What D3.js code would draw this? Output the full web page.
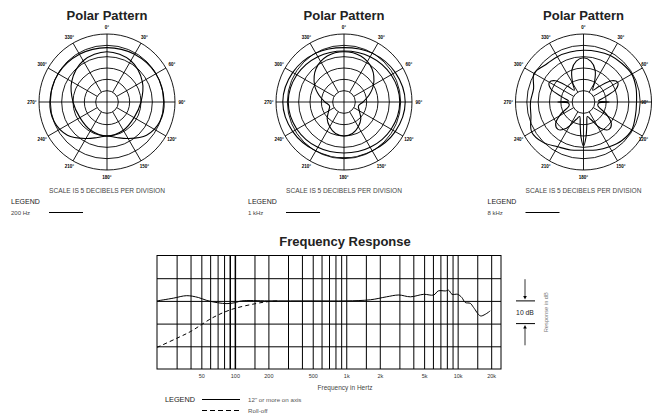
<!DOCTYPE html>
<html>
<head>
<meta charset="utf-8">
<script src="https://cdn.jsdelivr.net/npm/d3@7"></script>
<style>
    body { margin: 0; background: #fff; }
    svg { display: block; font-family: "Liberation Sans", Arial, Helvetica, sans-serif; }
</style>
</head>
<body>
<svg id="chart" width="652" height="413"></svg>
<script>
// polar patterns: angle in degrees clockwise from front, level in dB (0 = outer ring)
const p200OuterAngles = [0, 30, 60, 90, 110, 130, 150, 165, 180];
const p200OuterDb = [-6, -5.7, -5.1, -4.8, -5.1, -7.2, -11.4, -13.8, -15];
const p200InnerAngles = [0, 30, 60, 90, 120, 150, 180];
const p200InnerDb = [-7.8, -9, -12, -15, -16.2, -15.6, -15];

const p1kOuterAngles = [0, 30, 60, 90, 120, 150, 180];
const p1kOuterDb = [-6, -5.1, -3.9, -3, -3.9, -5.1, -5.4];
const p1kMidDb = [-7.5, -6.9, -6, -5.4, -6, -6.9, -7.5];
const p1kLobeAngles = [0, 20, 40, 60, 75, 90, 105, 120, 135, 150, 165, 180];
const p1kLobeDb = [-7.8, -8.4, -10.8, -15, -18.6, -21.6, -23.4, -22.2, -19.5, -17.4, -15.6, -15];

const p8kOuterAngles = [0, 15, 30, 45, 60, 75, 90, 105, 120, 135, 150, 165, 180,
    195, 210, 225, 240, 255, 270, 285, 300, 315, 330, 345];
const p8kOuterDb = [-7.2, -6.9, -6.3, -6, -5.4, -6, -6.6, -6.3, -5.4, -6, -7.2, -8.1, -8.7,
    -8.1, -7.2, -4.8, -3.6, -6, -6.6, -7.2, -4.8, -6.6, -6.9, -7.2];
const p8kFlowerAngles = [0, 10, 20, 30, 38, 45, 53, 60, 68, 77, 86, 90, 94, 105, 118, 128, 137, 147, 157, 165, 172, 176, 180];
const p8kFlowerDb = [-10.5, -11.7, -15, -20.4, -23.4, -20.4, -14.4, -12.6, -14.4, -20.4, -23.4, -18.6, -23.4,
    -23.4, -18.6, -14.4, -13.5, -16.2, -21.6, -23.4, -19.5, -14.4, -10.5];

const polarTitles = ["Polar Pattern", "Polar Pattern", "Polar Pattern"];
const polarLegends = ["200 Hz", "1 kHz", "8 kHz"];
const ringLevels = [-25, -20, -15, -10, -5, 0];
const spokeAngles = [0, 30, 60, 90, 120, 150, 180, 210, 240, 270, 300, 330];

// frequency response
const respFreqs = [20, 28, 37, 47, 56, 70, 85, 100, 115, 200, 500, 1000, 1650, 2300, 2960, 3770, 4960,
    6100, 6700, 7800, 8300, 8900, 10000, 10900, 11700, 13000, 13900, 16000, 17700, 19600];
const respDb = [0, 1.2, 2.3, 1.5, 0.2, -0.8, -1.2, -0.8, 0, 0, 0, 0, 0.5, 1.8, 2.6, 1.8, 2.9,
    2.6, 4.4, 4.4, 4.7, 2.9, 2.9, 1.5, -0.7, -1.1, -2.9, -6.6, -5.9, -4.4];
const rollFreqs = [20, 30, 40, 50, 60, 70, 80, 100, 150, 200, 250];
const rollDb = [-20.5, -16.5, -13.5, -10.5, -8, -6.3, -5, -3.3, -1.3, -0.3, 0];
const gridFreqs = [30, 40, 50, 60, 70, 80, 90, 100, 150, 200, 300, 400, 500, 600, 700, 800, 900, 1000,
    1500, 2000, 3000, 4000, 5000, 6000, 7000, 8000, 9000, 10000, 15000, 20000];
const labelFreqs = [50, 100, 200, 500, 1000, 2000, 5000, 10000, 20000];
const labelTexts = ["50", "100", "200", "500", "1k", "2k", "5k", "10k", "20k"];
const gridDb = [-20, -10, 0, 10];

const svg = d3.select("#chart");

// mirror a half pattern (0..180) to a full closed loop
const mirror = (angles, levels) => {
    var pts = angles.map((a, i) => ({a: a, db: levels[i]}));
    var back = pts.filter(p => p.a > 0 && p.a < 180).reverse().map(p => ({a: 360 - p.a, db: p.db}));
    return pts.concat(back);
};
const full = (angles, levels) => angles.map((a, i) => ({a: a, db: levels[i]}));

const polars = [
    {cx: 107, curves: [mirror(p200OuterAngles, p200OuterDb), mirror(p200InnerAngles, p200InnerDb)]},
    {cx: 344, curves: [mirror(p1kOuterAngles, p1kOuterDb), mirror(p1kOuterAngles, p1kMidDb), mirror(p1kLobeAngles, p1kLobeDb)]},
    {cx: 583.5, curves: [full(p8kOuterAngles, p8kOuterDb), mirror(p8kFlowerAngles, p8kFlowerDb)]}
];

const R = 68, cy = 102;
const rScale = d3.scaleLinear().domain([-30, 0]).range([0, R]).clamp(true);
const rad = d => d * Math.PI / 180;

polars.forEach((p, k) => {
    var g = svg.append("g").attr("transform", `translate(${p.cx},${cy})`);

    svg.append("text")
        .attr("x", p.cx).attr("y", 20)
        .attr("text-anchor", "middle")
        .attr("font-size", 13).attr("font-weight", "bold").attr("fill", "#222")
        .text(polarTitles[k]);

    g.selectAll(".ring").data(ringLevels).enter().append("circle")
        .attr("class", "ring")
        .attr("r", d => rScale(d))
        .attr("fill", "none").attr("stroke", "#000").attr("stroke-width", 0.9);

    // axis lines cross the centre, the others start at the inner ring
    g.selectAll(".spoke").data(spokeAngles).enter().append("line")
        .attr("class", "spoke")
        .attr("x1", d => (d % 90 === 0 ? 0 : rScale(-25)) * Math.sin(rad(d)))
        .attr("y1", d => -(d % 90 === 0 ? 0 : rScale(-25)) * Math.cos(rad(d)))
        .attr("x2", d => R * Math.sin(rad(d)))
        .attr("y2", d => -R * Math.cos(rad(d)))
        .attr("stroke", "#000").attr("stroke-width", 0.9);

    g.selectAll(".ang").data(spokeAngles).enter().append("text")
        .attr("class", "ang")
        .attr("x", d => Math.min((R + 7) * Math.sin(rad(d)), 648 - p.cx))
        .attr("y", d => -(R + 7) * Math.cos(rad(d)) + 1.5)
        .attr("text-anchor", d => (R + 7) * Math.sin(rad(d)) > 648 - p.cx ? "end" : "middle")
        .attr("font-size", 4.5).attr("font-weight", "bold")
        .text(d => d + "°");

    var line = d3.lineRadial()
        .angle(d => rad(d.a))
        .radius(d => rScale(d.db))
        .curve(d3.curveCatmullRomClosed.alpha(0.5));

    g.selectAll(".curve").data(p.curves).enter().append("path")
        .attr("class", "curve")
        .attr("d", line)
        .attr("fill", "none").attr("stroke", "#000").attr("stroke-width", 1.1);

    svg.append("text")
        .attr("x", p.cx).attr("y", 192.5)
        .attr("text-anchor", "middle")
        .attr("font-size", 6.6).attr("fill", "#444")
        .text("SCALE IS 5 DECIBELS PER DIVISION");

    svg.append("text")
        .attr("x", p.cx - 96).attr("y", 203.5)
        .attr("font-size", 7).attr("fill", "#222")
        .text("LEGEND");
    svg.append("text")
        .attr("x", p.cx - 96).attr("y", 214.5)
        .attr("font-size", 6).attr("fill", "#444")
        .text(polarLegends[k]);
    svg.append("line")
        .attr("x1", p.cx - 58).attr("x2", p.cx - 24)
        .attr("y1", 212.5).attr("y2", 212.5)
        .attr("stroke", "#000").attr("stroke-width", 1);
});

// frequency response panel
const x = d3.scaleLog().domain([20, 24500]).range([157, 501]);
const y = d3.scaleLinear().domain([-30, 20]).range([369, 255.5]);
const fr = svg.append("g");

svg.append("text")
    .attr("x", 345).attr("y", 246)
    .attr("text-anchor", "middle")
    .attr("font-size", 13).attr("font-weight", "bold").attr("fill", "#222")
    .text("Frequency Response");

fr.append("g")
    .attr("transform", `translate(0,${y(-30)})`)
    .call(d3.axisBottom(x).tickValues(gridFreqs).tickSize(-(y(-30) - y(20))).tickFormat(""))
    .call(a => a.select(".domain").remove())
    .call(a => a.selectAll("line").attr("stroke", "#000").attr("stroke-width", d => (d === 90 || d === 100) ? 1.5 : 1));

fr.append("g")
    .attr("transform", `translate(${x(20)},0)`)
    .call(d3.axisLeft(y).tickValues(gridDb).tickSize(-(x(24500) - x(20))).tickFormat(""))
    .call(a => a.select(".domain").remove())
    .call(a => a.selectAll("line").attr("stroke", "#000").attr("stroke-width", 1));

fr.append("rect")
    .attr("x", x(20)).attr("y", y(20))
    .attr("width", x(24500) - x(20)).attr("height", y(-30) - y(20))
    .attr("fill", "none").attr("stroke", "#000").attr("stroke-width", 1);

fr.append("g")
    .attr("transform", `translate(0,${y(-30)})`)
    .call(d3.axisBottom(x).tickValues(labelFreqs).tickSize(0).tickPadding(5)
        .tickFormat((d, i) => labelTexts[i]))
    .call(a => a.select(".domain").remove())
    .call(a => a.selectAll("text").attr("font-size", 5.5).attr("fill", "#333")
        .attr("font-family", "Liberation Sans, Arial, sans-serif"));

const respLine = d3.line().x(d => x(d[0])).y(d => y(d[1])).curve(d3.curveCatmullRom);
fr.append("path")
    .datum(respFreqs.map((f, i) => [f, respDb[i]]))
    .attr("d", respLine)
    .attr("fill", "none").attr("stroke", "#000").attr("stroke-width", 1);
fr.append("path")
    .datum(rollFreqs.map((f, i) => [f, rollDb[i]]))
    .attr("d", respLine)
    .attr("fill", "none").attr("stroke", "#000").attr("stroke-width", 1)
    .attr("stroke-dasharray", "4,3");

// 10 dB marker
const mx = 525;
fr.selectAll(".mark").data([0, -10]).enter().append("line")
    .attr("class", "mark")
    .attr("x1", 516).attr("x2", 535)
    .attr("y1", d => y(d)).attr("y2", d => y(d))
    .attr("stroke", "#000").attr("stroke-width", 1);
fr.append("line").attr("x1", mx).attr("x2", mx).attr("y1", y(10) + 1).attr("y2", y(0) - 4)
    .attr("stroke", "#000").attr("stroke-width", 0.8);
fr.append("line").attr("x1", mx).attr("x2", mx).attr("y1", y(-20) - 1).attr("y2", y(-10) + 4)
    .attr("stroke", "#000").attr("stroke-width", 0.8);
fr.append("path").attr("d", `M${mx - 1.8},${y(0) - 5}L${mx + 1.8},${y(0) - 5}L${mx},${y(0) - 1.5}Z`);
fr.append("path").attr("d", `M${mx - 1.8},${y(-10) + 5}L${mx + 1.8},${y(-10) + 5}L${mx},${y(-10) + 1.5}Z`);
fr.append("text")
    .attr("x", mx).attr("y", y(-5) + 2.3)
    .attr("text-anchor", "middle").attr("font-size", 6.8).attr("fill", "#222")
    .text("10 dB");
fr.append("text")
    .attr("transform", `translate(548,${y(-5)}) rotate(-90)`)
    .attr("text-anchor", "middle").attr("font-size", 5.7).attr("fill", "#777")
    .text("Response in dB");

fr.append("text")
    .attr("x", 345).attr("y", 390)
    .attr("text-anchor", "middle").attr("font-size", 6.5).attr("fill", "#444")
    .text("Frequency in Hertz");

// bottom legend
fr.append("text").attr("x", 165).attr("y", 402).attr("font-size", 7.3).attr("fill", "#222").text("LEGEND");
fr.append("line").attr("x1", 202).attr("x2", 240).attr("y1", 399.5).attr("y2", 399.5)
    .attr("stroke", "#000").attr("stroke-width", 1);
fr.append("text").attr("x", 248).attr("y", 401.8).attr("font-size", 6.2).attr("fill", "#555")
    .text("12\" or more on axis");
fr.append("line").attr("x1", 202).attr("x2", 240).attr("y1", 410.5).attr("y2", 410.5)
    .attr("stroke", "#000").attr("stroke-width", 1).attr("stroke-dasharray", "5,3");
fr.append("text").attr("x", 248).attr("y", 412.8).attr("font-size", 6.2).attr("fill", "#555")
    .text("Roll-off");
</script>
</body>
</html>
